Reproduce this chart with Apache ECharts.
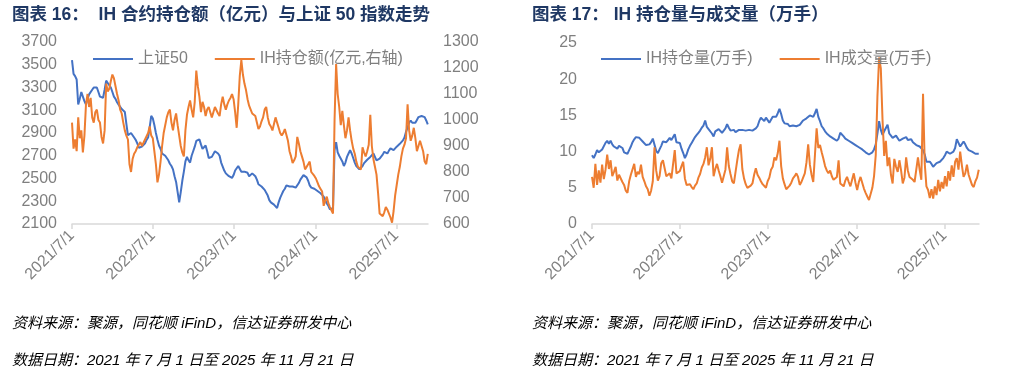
<!DOCTYPE html>
<html><head><meta charset="utf-8">
<script src="https://cdn.jsdelivr.net/npm/echarts@6/dist/echarts.min.js"></script>
<style>html,body{margin:0;padding:0;background:#fff}#c{width:1018px;height:385px}</style>
</head><body><div id="c"></div>
<script>
// ---- data (weekly samples, starting 2021/7/1) ----
const tickLabels = ['2021/7/1','2022/7/1','2023/7/1','2024/7/1','2025/7/1'];
const sse50 = [3540,3420,3400,3370,3150,3200,3260,3220,3180,3150,
3200,3240,3250,3280,3300,3310,3300,3260,3220,3230,
3210,3280,3360,3340,3320,3300,3260,3220,3200,3170,
3150,3130,3110,3100,3085,2980,2880,2890,2900,2880,
2860,2840,2810,2770,2760,2780,2790,2810,2840,2860,
2950,3050,3030,2970,2900,2840,2790,2760,2720,2710,
2700,2690,2660,2630,2610,2580,2520,2470,2380,2290,
2380,2480,2560,2650,2690,2660,2640,2700,2740,2780,
2830,2840,2845,2800,2760,2770,2790,2740,2680,2665,
2690,2700,2740,2750,2720,2700,2640,2605,2570,2545,
2530,2520,2510,2505,2530,2570,2590,2610,2600,2560,
2545,2560,2575,2550,2520,2530,2545,2535,2520,2490,
2450,2440,2430,2420,2400,2390,2350,2310,2290,2280,
2270,2270,2240,2290,2330,2360,2390,2410,2440,2445,
2430,2420,2430,2425,2420,2430,2460,2490,2500,2530,
2525,2510,2480,2440,2420,2415,2410,2400,2390,2385,
2370,2355,2340,2310,2280,2260,2230,2225,2240,2750,
2820,2730,2700,2690,2650,2610,2640,2690,2720,2750,
2720,2680,2640,2610,2600,2580,2575,2610,2635,2650,
2665,2680,2690,2705,2720,2715,2660,2665,2675,2690,
2710,2735,2730,2720,2745,2765,2760,2750,2765,2780,
2790,2805,2820,2835,2860,2910,2950,2990,3010,2990,
2975,2990,3015,3040,3055,3050,3035,3040,3010,2975];
const ihAmount = [990,890,925,880,1010,930,960,875,940,1060,
1100,1050,1085,1010,990,1030,1040,1000,990,935,
910,960,1140,1110,1120,1150,1175,1160,1130,1100,
1075,1040,1025,990,960,940,925,830,800,850,
870,880,895,905,915,900,905,925,920,950,
975,940,930,880,830,760,790,840,900,950,
980,1010,1030,1040,990,960,1000,1025,980,940,
900,875,860,960,1020,1050,1075,1040,1010,1070,
1190,1130,1090,1030,1070,1050,1015,1040,1050,1030,
1010,1030,1050,1045,1025,1015,1060,1090,1060,1040,
1060,1075,1085,1100,1080,1030,970,1060,1170,1230,
1175,1140,1115,1080,1055,1040,1025,1030,1015,990,
965,975,995,1010,1040,1050,1010,985,975,960,
985,1010,990,970,950,940,950,965,970,920,
880,860,835,845,860,935,910,880,860,840,
810,815,830,840,800,795,785,775,760,745,
735,725,670,690,705,680,665,660,640,1000,
1215,1100,1050,980,1035,980,930,960,1010,960,
920,890,870,840,820,815,810,895,875,860,
880,905,1020,900,850,820,790,720,640,635,
630,645,665,655,650,625,605,650,710,750,
790,820,860,890,905,930,1060,960,920,940,
970,930,880,900,920,900,880,840,830,870];
const ihOpenInterest = [9.5,9.1,9.6,10.2,9.9,9.8,10.3,10.5,11.2,11.5,
11.1,11.5,11.0,10.7,10.6,10.4,10.8,11.0,10.5,9.9,
9.8,9.7,10.2,10.7,11.3,11.7,12.0,12.1,11.9,11.7,
11.4,11.2,10.9,10.8,11.0,11.3,11.8,11.6,10.1,9.8,
10.3,10.8,11.4,11.5,11.3,11.6,11.9,11.6,11.5,12.4,
11.3,11.1,11.2,10.4,9.8,9.1,9.6,10.3,10.8,11.2,
11.6,12.0,12.3,12.6,12.9,13.3,13.6,14.3,13.4,13.1,
13.0,12.5,12.1,12.8,13.0,13.1,13.0,12.6,12.7,13.2,
13.8,13.3,12.9,13.1,13.0,12.7,12.8,13.0,13.1,13.0,
13.1,12.9,12.9,13.0,13.1,12.9,12.9,13.2,13.5,14.2,
14.7,14.5,14.2,14.7,14.6,14.0,13.9,14.8,15.0,14.8,
15.3,15.9,15.2,14.3,13.9,14.1,13.8,13.5,13.3,13.6,
13.8,13.5,13.4,13.7,13.9,14.3,14.5,14.6,14.8,15.0,
14.9,14.8,15.3,15.9,14.8,14.2,13.5,13.2,12.8,12.5,
12.3,12.1,11.9,11.8,11.6,11.5,11.8,12.6,12.4,12.1,
11.8,11.6,11.5,11.4,11.2,11.0,10.9,10.7,10.6,10.5,
10.3,10.2,9.9,9.8,9.6,9.5,9.9,10.3,11.0,12.5,
14.2,13.0,12.3,12.8,12.9,13.7,12.5,12.2,11.9,12.0,
12.2,12.0,11.5,11.6,11.8,11.9,12.0,11.6,11.5,11.7,
11.3,11.1,10.9,10.8,10.7,10.5,10.2,9.6,8.6,8.4,
8.6,8.3,7.9,8.1,8.4,8.5,8.6,8.7,9.1,9.5,
10.0,9.8,9.7,9.9,10.0,10.5,11.7,11.2,10.7,10.9,
11.4,11.0,10.5,10.2,10.4,10.0,9.8,9.7,9.6,9.7];
const ihVolume = [6.5,5.0,8.3,5.4,7.4,5.7,8.2,6.2,7.5,9.6,
7.6,8.8,6.6,7.2,7.9,6.0,6.8,6.9,5.8,5.4,
4.6,4.3,5.9,6.8,7.0,8.3,6.5,7.2,6.9,8.2,
6.5,5.9,5.2,4.8,3.9,4.6,5.9,10.6,7.4,6.0,
6.6,8.4,8.8,7.7,6.6,6.6,7.0,6.3,6.5,10.2,
7.0,6.8,7.3,8.0,8.6,6.3,5.4,5.3,5.5,5.1,
4.8,5.3,5.6,6.4,6.9,7.8,8.3,9.2,10.6,8.1,
9.0,10.6,6.6,7.6,8.3,7.4,6.6,5.7,5.9,7.5,
10.6,8.0,6.9,5.9,5.6,7.2,8.8,10.2,11.0,7.6,
6.3,5.5,5.0,4.9,5.3,5.6,6.8,7.7,6.8,6.4,
5.9,5.5,5.3,5.0,5.9,6.4,7.5,7.9,9.2,8.8,
9.8,11.5,8.0,6.3,5.5,4.8,5.0,5.3,5.7,6.3,
6.6,7.0,6.5,5.4,5.8,6.4,7.0,8.5,11.0,8.2,
6.8,5.8,9.5,13.2,10.5,10.9,9.9,9.0,8.0,7.4,
7.0,7.4,6.6,6.1,6.3,6.5,8.8,5.6,5.4,5.2,
6.0,6.5,5.8,5.2,6.1,7.0,5.7,4.7,5.8,6.5,
5.7,4.9,4.3,3.8,3.3,3.1,5.0,6.6,9.5,17.6,
23.0,21.5,14.5,9.4,11.5,8.0,9.2,6.8,5.6,9.0,
7.9,7.2,8.8,7.4,5.6,6.4,9.2,7.4,6.5,6.3,
6.1,5.8,5.6,9.2,7.5,6.1,18.0,8.4,5.2,4.7,
3.6,4.8,3.5,5.2,4.0,6.1,4.5,5.8,4.9,6.6,
5.2,7.3,6.0,8.1,6.5,8.6,9.1,7.5,10.0,8.1,
6.5,7.0,8.2,6.8,6.1,5.4,5.1,5.9,6.4,7.5];

// ---- build (x = days since 2021/7/1) ----
const DAY = 86400000;
const startDate = Date.UTC(2021, 6, 1);
const endDay = (Date.UTC(2025, 10, 21) - startDate) / DAY;
const tickDays = tickLabels.map(s => { const p = s.split('/').map(Number); return (Date.UTC(p[0], p[1]-1, p[2]) - startDate) / DAY; });
const toPairs = arr => arr.map((v, i) => [7 * i, v]);
const GRAY = '#7f7f7f', AXIS = '#d9d9d9';
const FONT = '"Liberation Sans","Noto Sans CJK SC",sans-serif';
const BLUE = '#4472C4', ORANGE = '#ED7D31';

function labelFor(v) {
  for (let k = 0; k < tickDays.length; k++) if (Math.abs(tickDays[k] - v) < 0.5) return tickLabels[k];
  return '';
}
function xAxisCfg(gi) {
  return { type: 'value', gridIndex: gi, min: 0, max: endDay,
    axisLine: { show: true, onZero: false, lineStyle: { color: AXIS, width: 1.5 } },
    axisTick: { show: true, customValues: tickDays, length: 5, lineStyle: { color: AXIS, width: 1.5 } },
    axisLabel: { customValues: tickDays, rotate: 45, margin: 9, fontSize: 16, color: GRAY, fontFamily: FONT, formatter: labelFor },
    splitLine: { show: false } };
}
function yAxisCfg(gi, min, max, step, pos) {
  return { type: 'value', gridIndex: gi, min, max, interval: step, position: pos,
    axisLine: { show: false }, axisTick: { show: false }, splitLine: { show: false },
    axisLabel: { fontSize: 16, color: GRAY, fontFamily: FONT, margin: 15, formatter: v => String(v) } };
}
const lineS = (name, data, color, xi, yi) => ({ name, type: 'line', xAxisIndex: xi, yAxisIndex: yi,
  data: toPairs(data), showSymbol: false, symbol: 'none', lineStyle: { color, width: 2 }, itemStyle: { color }, z: 2 });

const legendCfg = (data, left) => ({ data, left, top: 46, icon: 'rect', itemWidth: 40, itemHeight: 2, itemGap: 27,
  textStyle: { fontSize: 16, color: GRAY, fontFamily: FONT } });

const titleFont = 'bold 18px "Liberation Sans","Noto Sans CJK SC",sans-serif';
const footFont = 'italic 15px "Liberation Sans","Noto Sans CJK SC",sans-serif';
const txt = (left, top, text, font, fill) => ({ type: 'text', left, top, style: { text, font, fill } });

const chart = echarts.init(document.getElementById('c'), null, { renderer: 'canvas' });
chart.setOption({
  animation: false,
  backgroundColor: '#fff',
  textStyle: { fontFamily: FONT },
  grid: [
    { left: 72, right: 590, top: 42, bottom: 161, outerBoundsMode: 'none' },
    { left: 592, right: 39, top: 43, bottom: 161, outerBoundsMode: 'none' }
  ],
  xAxis: [xAxisCfg(0), xAxisCfg(1)],
  yAxis: [
    yAxisCfg(0, 2100, 3700, 200, 'left'),
    yAxisCfg(0, 600, 1300, 100, 'right'),
    yAxisCfg(1, 0, 25, 5, 'left')
  ],
  legend: [
    legendCfg(['上证50', 'IH持仓额(亿元,右轴)'], 88),
    legendCfg(['IH持仓量(万手)', 'IH成交量(万手)'], 596)
  ],
  series: [
    lineS('上证50', sse50, BLUE, 0, 0),
    lineS('IH持仓额(亿元,右轴)', ihAmount, ORANGE, 0, 1),
    lineS('IH持仓量(万手)', ihOpenInterest, BLUE, 1, 2),
    lineS('IH成交量(万手)', ihVolume, ORANGE, 1, 2)
  ],
  graphic: [
    txt(12, 6, '图表 16：  IH 合约持仓额（亿元）与上证 50 指数走势', 'bold 17.5px "Liberation Sans","Noto Sans CJK SC",sans-serif', '#1F3864'),
    txt(532, 6, '图表 17： IH 持仓量与成交量（万手）', 'bold 17.5px "Liberation Sans","Noto Sans CJK SC",sans-serif', '#1F3864'),
    txt(12, 316, '资料来源：聚源，同花顺 iFinD，信达证券研发中心', footFont, '#000'),
    txt(12, 353, '数据日期：2021 年 7 月 1 日至 2025 年 11 月 21 日', footFont, '#000'),
    txt(532, 316, '资料来源：聚源，同花顺 iFinD，信达证券研发中心', footFont, '#000'),
    txt(532, 353, '数据日期：2021 年 7 月 1 日至 2025 年 11 月 21 日', footFont, '#000')
  ]
});
</script></body></html>
